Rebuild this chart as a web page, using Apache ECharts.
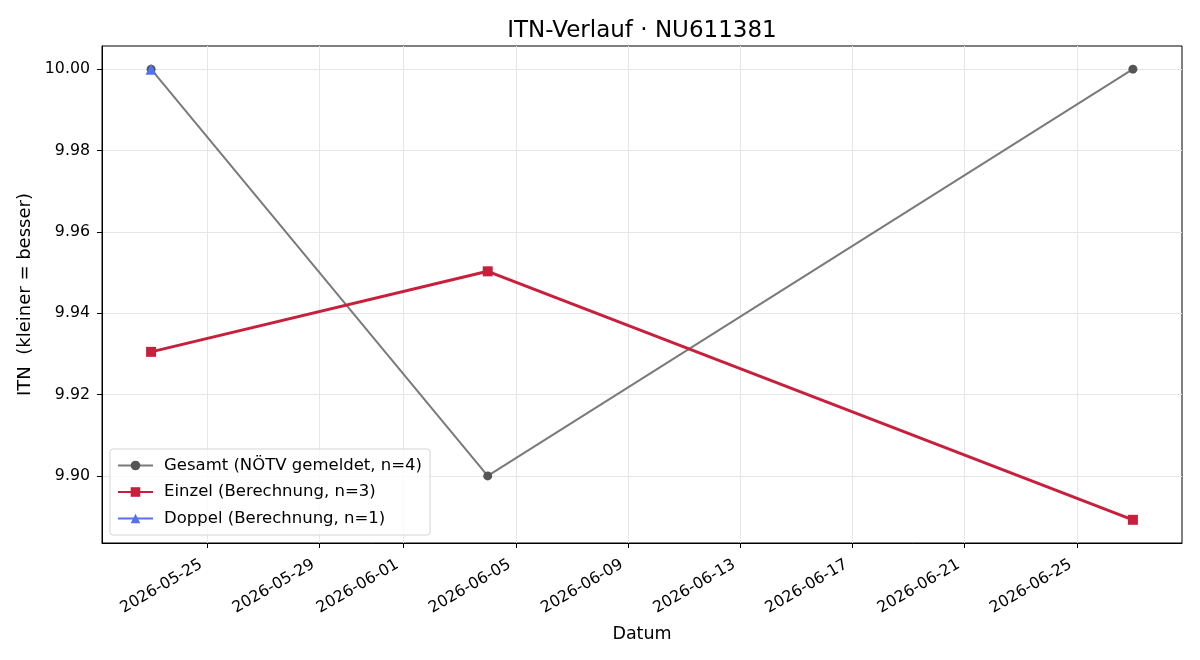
<!DOCTYPE html>
<html>
<head>
<meta charset="utf-8">
<script src="https://cdn.jsdelivr.net/npm/echarts@6/dist/echarts.min.js"></script>
<style>
  html, body { margin: 0; padding: 0; background: #fff; }
  #main { width: 1200px; height: 660px; }
</style>
</head>
<body>
<div id="main"></div>
<script>
var gesamtDates = ['2026-05-23', '2026-06-04', '2026-06-27'];
var gesamtValues = [10.00, 9.90, 10.00];
var einzelDates = ['2026-05-23', '2026-06-04', '2026-06-27'];
var einzelValues = [9.9305, 9.9503, 9.8892];
var doppelDates = ['2026-05-23'];
var doppelValues = [10.00];
var xTickLabels = ['2026-05-25', '2026-05-29', '2026-06-01', '2026-06-05', '2026-06-09',
                   '2026-06-13', '2026-06-17', '2026-06-21', '2026-06-25'];
var yTicks = [9.90, 9.92, 9.94, 9.96, 9.98, 10.00];

function t(s) { return echarts.number.parseDate(s).getTime(); }
function pairs(d, v) { return d.map(function (x, i) { return [t(x), v[i]]; }); }

var HOUR = 3600 * 1000;
var xMin = t('2026-05-21') + 6 * HOUR;
var xMax = t('2026-06-28') + 18 * HOUR;

var font = 'DejaVu Sans';
var myChart = echarts.init(document.getElementById('main'));
var option = {
    animation: false,
    textStyle: { fontFamily: font },
    title: {
        text: 'ITN-Verlauf · NU611381',
        left: 637,
        textAlign: 'center',
        top: 15,
        textStyle: { fontFamily: font, fontSize: 23, fontWeight: 'normal', color: '#000' }
    },
    legend: {
        orient: 'vertical',
        left: 110,
        bottom: 125,
        padding: [8, 8, 8, 7],
        itemGap: 9.5,
        itemWidth: 35,
        itemHeight: 12,
        borderColor: '#d4d4d4',
        borderWidth: 1,
        borderRadius: 3,
        backgroundColor: 'rgba(255,255,255,0.8)',
        textStyle: { fontFamily: font, fontSize: 16.5, color: '#000', padding: [0, 0, 0, 6] },
        data: ['Gesamt (NÖTV gemeldet, n=4)', 'Einzel (Berechnung, n=3)', 'Doppel (Berechnung, n=1)']
    },
    grid: {
        left: 102, right: 18, top: 46, bottom: 117,
        show: true, borderColor: '#000', borderWidth: 1
    },
    xAxis: {
        type: 'value',
        min: xMin,
        max: xMax,
        name: 'Datum',
        nameLocation: 'middle',
        nameGap: 82,
        nameTextStyle: { fontFamily: font, fontSize: 17.5, color: '#000' },
        axisLine: { show: true, onZero: false, lineStyle: { color: '#000', width: 1 } },
        axisTick: { show: true, length: 5, lineStyle: { color: '#000' }, customValues: xTickLabels.map(t) },
        axisLabel: {
            customValues: xTickLabels.map(t),
            rotate: 30,
            fontFamily: font, fontSize: 15.8, color: '#000',
            margin: 17,
            padding: [0, 7, 0, 0],
            formatter: function (v) { return echarts.time.format(v, '{yyyy}-{MM}-{dd}', false); }
        },
        splitLine: { show: true, lineStyle: { color: '#e6e6e6', width: 1 } }
    },
    yAxis: {
        type: 'value',
        min: 9.8835,
        max: 10.0057,
        name: 'ITN  (kleiner = besser)',
        nameLocation: 'middle',
        nameGap: 67,
        nameTextStyle: { fontFamily: font, fontSize: 18, color: '#000' },
        axisLine: { show: true, lineStyle: { color: '#000', width: 1 } },
        axisTick: { show: true, length: 5, lineStyle: { color: '#000' }, customValues: yTicks },
        axisLabel: {
            customValues: yTicks,
            fontFamily: font, fontSize: 15.8, color: '#000',
            margin: 12,
            formatter: function (v) { return v.toFixed(2); }
        },
        splitLine: { show: true, lineStyle: { color: '#e6e6e6', width: 1 } }
    },
    series: [
        {
            name: 'Gesamt (NÖTV gemeldet, n=4)',
            type: 'line',
            data: pairs(gesamtDates, gesamtValues),
            symbol: 'circle',
            symbolSize: 9,
            lineStyle: { color: '#7a7a7a', width: 2 },
            itemStyle: { color: '#555555' }
        },
        {
            name: 'Einzel (Berechnung, n=3)',
            type: 'line',
            data: pairs(einzelDates, einzelValues),
            symbol: 'rect',
            symbolSize: 10,
            lineStyle: { color: '#c8203c', width: 3 },
            itemStyle: { color: '#c8203c' }
        },
        {
            name: 'Doppel (Berechnung, n=1)',
            type: 'line',
            data: pairs(doppelDates, doppelValues),
            symbol: 'triangle',
            symbolSize: 11,
            lineStyle: { color: '#5572ee', width: 3 },
            itemStyle: { color: '#5572ee' }
        }
    ]
};
myChart.setOption(option);
</script>
</body>
</html>
